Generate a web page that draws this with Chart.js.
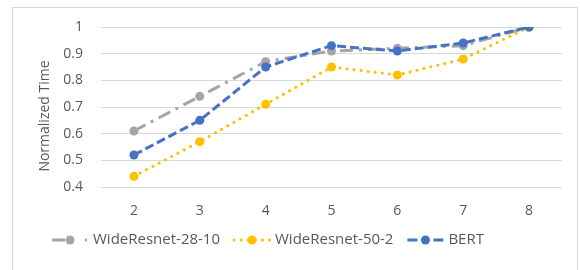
<!DOCTYPE html>
<html><head><meta charset="utf-8">
<script src="https://cdn.jsdelivr.net/npm/chart.js@4/dist/chart.umd.min.js"></script>
<style>html,body{margin:0;padding:0;background:#fff;}</style>
</head><body>
<canvas id="c" width="580" height="270"></canvas>
<script>
const categories = ['2', '3', '4', '5', '6', '7', '8'];
const wideResnet2810 = [0.61, 0.74, 0.87, 0.91, 0.92, 0.93, 1.0];
const wideResnet502 = [0.44, 0.57, 0.71, 0.85, 0.82, 0.88, 1.0];
const bert = [0.52, 0.65, 0.85, 0.93, 0.91, 0.94, 1.0];
const seriesNames = ['WideResnet-28-10', 'WideResnet-50-2', 'BERT'];
const yTickValues = [0.4, 0.5, 0.6, 0.7, 0.8, 0.9, 1];
const yTitle = 'Normalized Time';

const FONT_FAMILY = '"Open Sans", Lato, sans-serif';
const FONT_SIZE = 14;
const LEGEND_FONT_SIZE = 15;
const TEXT_COLOR = '#595959';

const styles = [
  {color: '#A5A5A5', dash: [13, 6, 3, 6], cap: 'butt', legendDash: [13, 20, 2, 10], order: 2},
  {color: '#FFC000', dash: [0.1, 7], cap: 'round', legendDash: [0.1, 7], order: 1},
  {color: '#4472C4', dash: [9, 4], cap: 'butt', legendDash: [10, 16, 10, 0], order: 0}
];
const seriesValues = [wideResnet2810, wideResnet502, bert];

const datasets = seriesValues.map((vals, i) => ({
  label: seriesNames[i],
  data: vals,
  borderColor: styles[i].color,
  backgroundColor: styles[i].color,
  pointBackgroundColor: styles[i].color,
  pointBorderColor: styles[i].color,
  borderWidth: 3,
  borderDash: styles[i].dash,
  borderCapStyle: styles[i].cap,
  pointRadius: 4.5,
  pointHoverRadius: 4.5,
  pointBorderWidth: 0,
  tension: 0,
  fill: false,
  order: styles[i].order
}));

const frame = {
  id: 'frame',
  beforeDraw(chart) {
    const ctx = chart.ctx;
    ctx.save();
    ctx.fillStyle = '#fff';
    ctx.fillRect(0, 0, chart.width, chart.height);
    ctx.strokeStyle = '#D9D9D9';
    ctx.lineWidth = 1;
    ctx.strokeRect(12.5, 7.5, 565, 300);
    ctx.restore();
  },
  afterDraw(chart) {
    const ctx = chart.ctx;
    ctx.save();
    ctx.translate(45, 116);
    ctx.rotate(-Math.PI / 2);
    ctx.font = FONT_SIZE + 'px ' + FONT_FAMILY;
    ctx.fillStyle = TEXT_COLOR;
    ctx.textAlign = 'center';
    ctx.textBaseline = 'middle';
    ctx.fillText(yTitle, 0, 0);
    ctx.restore();
  }
};

const legendPlugin = {
  id: 'customLegend',
  afterDraw(chart) {
    const ctx = chart.ctx;
    ctx.save();
    ctx.font = LEGEND_FONT_SIZE + 'px ' + FONT_FAMILY;
    const symW = 36, gapText = 5, gapItem = 14;
    const items = chart.data.datasets.map((ds, i) => ({ds, st: styles[i], w: ctx.measureText(ds.label).width}));
    const total = items.reduce((s, it) => s + symW + gapText + it.w, 0) + gapItem * (items.length - 1);
    let x = 268 - total / 2;
    const y = 240;
    items.forEach(it => {
      ctx.save();
      ctx.strokeStyle = it.st.color;
      ctx.lineWidth = 3;
      ctx.lineCap = it.st.cap;
      ctx.setLineDash(it.st.legendDash);
      ctx.beginPath();
      ctx.moveTo(x, y);
      ctx.lineTo(x + symW, y);
      ctx.stroke();
      ctx.setLineDash([]);
      ctx.fillStyle = it.st.color;
      ctx.beginPath();
      ctx.arc(x + symW / 2, y, 4.5, 0, Math.PI * 2);
      ctx.fill();
      ctx.restore();
      ctx.fillStyle = TEXT_COLOR;
      ctx.textBaseline = 'middle';
      ctx.textAlign = 'left';
      ctx.fillText(it.ds.label, x + symW + gapText, y);
      x += symW + gapText + it.w + gapItem;
    });
    ctx.restore();
  }
};

new Chart(document.getElementById('c'), {
  type: 'line',
  data: {labels: categories, datasets},
  plugins: [frame, legendPlugin],
  options: {
    responsive: false,
    animation: false,
    devicePixelRatio: 1,
    layout: {padding: {left: 0, right: 18, top: 27, bottom: 43}},
    plugins: {legend: {display: false}, tooltip: {enabled: false}},
    font: {family: FONT_FAMILY},
    scales: {
      x: {
        offset: true,
        grid: {display: false, drawTicks: false},
        border: {display: false},
        ticks: {color: TEXT_COLOR, font: {size: FONT_SIZE, family: FONT_FAMILY}, padding: 16, maxRotation: 0},
        afterFit(scale) { scale.height = 40; }
      },
      y: {
        min: 0.4, max: 1,
        afterBuildTicks(scale) { scale.ticks = yTickValues.map(v => ({value: v})); },
        grid: {color: '#D9D9D9', lineWidth: 1, drawTicks: false},
        border: {display: false},
        ticks: {
          color: TEXT_COLOR, font: {size: FONT_SIZE, family: FONT_FAMILY}, padding: 18,
          callback: v => String(+Number(v).toFixed(1))
        },
        title: {display: false, text: yTitle},
        afterFit(scale) { scale.width = 101; }
      }
    }
  }
});
</script>
</body></html>
